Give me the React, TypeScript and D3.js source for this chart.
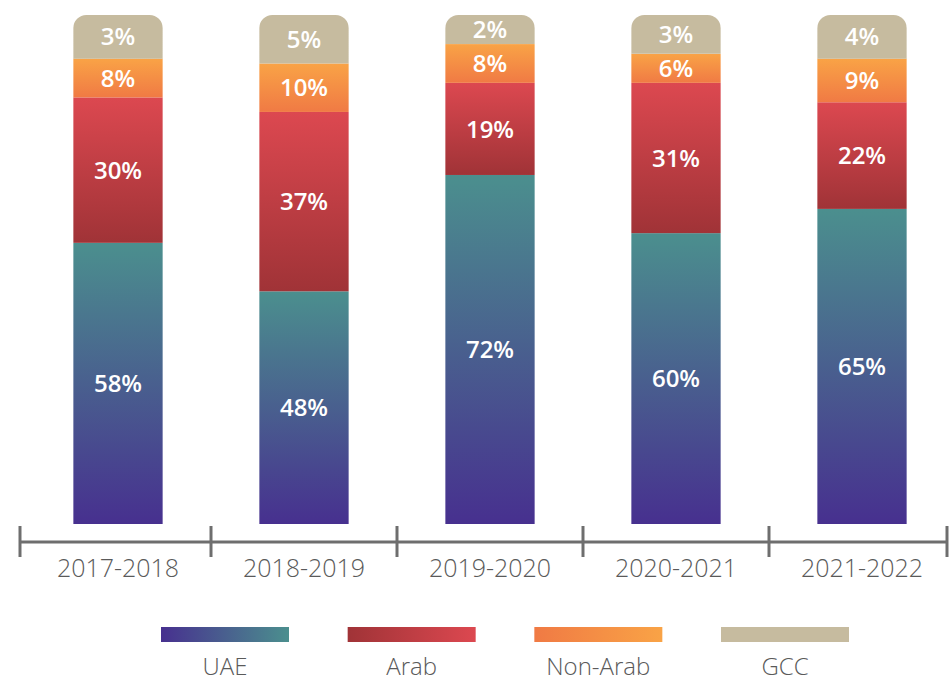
import React, { useEffect, useRef } from "react";
import * as d3 from "d3";

const years = ["2017-2018", "2018-2019", "2019-2020", "2020-2021", "2021-2022"];
const groups = ["UAE", "Arab", "Non-Arab", "GCC"];
const uae = [58, 48, 72, 60, 65];
const arab = [30, 37, 19, 31, 22];
const nonArab = [8, 10, 8, 6, 9];
const gcc = [3, 5, 2, 3, 4];

// gradient stops [from, to] : bottom->top for bars, left->right for legend
const colors: Record<string, [string, string]> = {
  UAE: ["#47308f", "#4b8f8e"],
  Arab: ["#a03337", "#dc4850"],
  "Non-Arab": ["#f07a44", "#f9a346"],
  GCC: ["#c6bb9f", "#c6bb9f"],
};

const W = 951;
const H = 683;
const FONT = '"Open Sans", "Noto Sans", sans-serif';

export default function App() {
  const ref = useRef<SVGSVGElement>(null);

  useEffect(() => {
    const svg = d3.select(ref.current);
    svg.selectAll("*").remove();

    const rows = years.map((y, i) => ({
      year: y,
      UAE: uae[i],
      Arab: arab[i],
      "Non-Arab": nonArab[i],
      GCC: gcc[i],
    }));
    const series = d3.stack<any>().keys(groups)(rows);

    const x = d3.scaleBand().domain(years).range([25, 955]).paddingInner(0.52).paddingOuter(0.26);
    const y = d3.scaleLinear().domain([0, 105]).range([524, 15]);

    const defs = svg.append("defs");
    groups.forEach((g, k) => {
      const v = defs.append("linearGradient").attr("id", "gv" + k)
        .attr("x1", 0).attr("y1", 1).attr("x2", 0).attr("y2", 0);
      v.append("stop").attr("offset", 0).attr("stop-color", colors[g][0]);
      v.append("stop").attr("offset", 1).attr("stop-color", colors[g][1]);
      const h = defs.append("linearGradient").attr("id", "gh" + k)
        .attr("x1", 0).attr("y1", 0).attr("x2", 1).attr("y2", 0);
      h.append("stop").attr("offset", 0).attr("stop-color", colors[g][0]);
      h.append("stop").attr("offset", 1).attr("stop-color", colors[g][1]);
    });

    const bw = x.bandwidth();
    const r = 13;
    series.forEach((s, k) => {
      const last = k === series.length - 1;
      const layer = svg.append("g");
      s.forEach((d) => {
        const x0 = x(d.data.year) as number;
        const yb = y(d[0]);
        const yt = last ? y(105) : y(d[1]);
        if (last) {
          const p = d3.path();
          p.moveTo(x0, yb);
          p.lineTo(x0, yt + r);
          p.arcTo(x0, yt, x0 + r, yt, r);
          p.lineTo(x0 + bw - r, yt);
          p.arcTo(x0 + bw, yt, x0 + bw, yt + r, r);
          p.lineTo(x0 + bw, yb);
          p.closePath();
          layer.append("path").attr("d", p.toString()).attr("fill", `url(#gv${k})`);
        } else {
          layer.append("rect")
            .attr("x", x0).attr("y", yt)
            .attr("width", bw).attr("height", yb - yt)
            .attr("fill", `url(#gv${k})`);
        }
        layer.append("text")
          .attr("x", x0 + bw / 2)
          .attr("y", (yb + yt) / 2)
          .attr("dy", "0.36em")
          .attr("text-anchor", "middle")
          .attr("fill", "white")
          .attr("font-family", FONT)
          .attr("font-size", 24)
          .attr("font-weight", 600)
          .text((d[1] - d[0]) + "%");
      });
    });

    // axis
    const ax0 = 20, ax1 = 947;
    const ticks = [ax0, ...years.slice(1).map((yr) => (x(yr) as number) - (x.step() * x.paddingInner()) / 2), ax1];
    const axis = svg.append("g").attr("stroke", "#6e6e6e").attr("stroke-width", 3);
    axis.append("line").attr("x1", ax0 - 1).attr("x2", ax1 + 1).attr("y1", 542).attr("y2", 542);
    ticks.forEach((t) => {
      axis.append("line").attr("x1", t).attr("x2", t).attr("y1", 526).attr("y2", 557);
    });
    years.forEach((yr) => {
      svg.append("text")
        .attr("x", (x(yr) as number) + bw / 2)
        .attr("y", 577)
        .attr("text-anchor", "middle")
        .attr("fill", "#5a5a5a")
        .attr("font-family", FONT)
        .attr("font-size", 25)
        .attr("font-weight", 300)
        .text(yr);
    });

    // legend
    const lx = d3.scalePoint().domain(groups).range([225, 785]);
    groups.forEach((g, k) => {
      const cx = lx(g) as number;
      svg.append("rect")
        .attr("x", cx - 64).attr("y", 627)
        .attr("width", 128).attr("height", 15)
        .attr("fill", `url(#gh${k})`);
      svg.append("text")
        .attr("x", cx).attr("y", 675)
        .attr("text-anchor", "middle")
        .attr("fill", "#5a5a5a")
        .attr("font-family", FONT)
        .attr("font-size", 24)
        .attr("font-weight", 300)
        .text(g);
    });
  }, []);

  return (
    <svg
      ref={ref}
      width={W}
      height={H}
      style={{ position: "absolute", left: 0, top: 0, background: "white" }}
    />
  );
}
